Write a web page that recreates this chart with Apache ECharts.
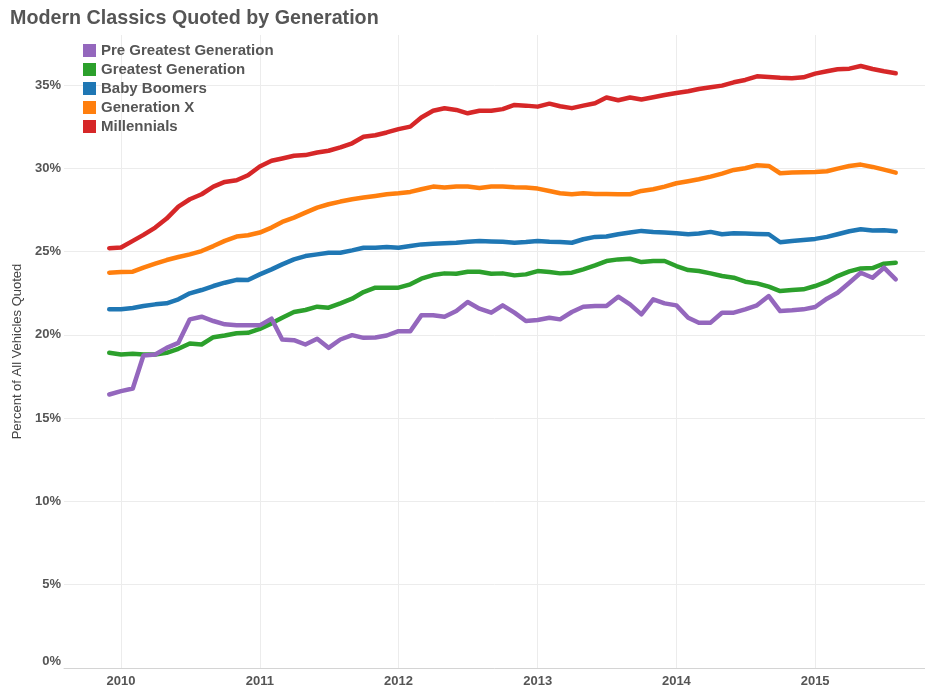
<!DOCTYPE html>
<html>
<head>
<meta charset="utf-8">
<script src="https://cdn.jsdelivr.net/npm/echarts@6/dist/echarts.min.js"></script>
<style>
html,body{margin:0;padding:0;background:#fff;}
#chart{width:925px;height:689px;}
</style>
</head>
<body>
<div id="chart"></div>
<script>
// Months: Dec 2009 .. Aug 2015 (first-of-month)
var startYear = 2009, startMonth = 11, monthCount = 69;
var yearLabels = ['2010', '2011', '2012', '2013', '2014', '2015'];
var yTickValues = [0, 5, 10, 15, 20, 25, 30, 35];
var seriesNames = ['Pre Greatest Generation', 'Greatest Generation', 'Baby Boomers', 'Generation X', 'Millennials'];

var preGreatest = [16.42, 16.62, 16.78, 18.76, 18.82, 19.22, 19.52, 20.93, 21.09, 20.83, 20.63, 20.57,
  20.57, 20.57, 20.97, 19.72, 19.68, 19.42, 19.76, 19.22, 19.72, 19.98, 19.82, 19.84,
  19.96, 20.22, 20.22, 21.17, 21.17, 21.09, 21.43, 21.97, 21.57, 21.33, 21.77, 21.33,
  20.83, 20.89, 21.03, 20.93, 21.37, 21.69, 21.73, 21.73, 22.29, 21.83, 21.23, 22.13,
  21.89, 21.77, 21.03, 20.73, 20.73, 21.33, 21.33, 21.53, 21.77, 22.33, 21.43, 21.47,
  21.53, 21.67, 22.17, 22.53, 23.13, 23.73, 23.43, 24.03, 23.33];
var greatest = [18.92, 18.82, 18.86, 18.82, 18.82, 18.92, 19.16, 19.48, 19.42, 19.86, 19.96, 20.1,
  20.12, 20.36, 20.69, 21.03, 21.37, 21.49, 21.69, 21.63, 21.89, 22.17, 22.57, 22.83,
  22.83, 22.83, 23.03, 23.37, 23.59, 23.69, 23.67, 23.79, 23.79, 23.67, 23.69, 23.57,
  23.63, 23.83, 23.77, 23.69, 23.73, 23.93, 24.17, 24.43, 24.53, 24.57, 24.37, 24.43,
  24.43, 24.13, 23.89, 23.83, 23.69, 23.53, 23.43, 23.19, 23.09, 22.89, 22.63, 22.69,
  22.73, 22.93, 23.19, 23.53, 23.81, 23.99, 24.01, 24.27, 24.33];
var babyBoomers = [21.53, 21.53, 21.61, 21.73, 21.83, 21.89, 22.13, 22.49, 22.69, 22.93, 23.13, 23.3,
  23.29, 23.63, 23.93, 24.23, 24.53, 24.73, 24.83, 24.93, 24.93, 25.07, 25.23, 25.23,
  25.27, 25.23, 25.33, 25.43, 25.47, 25.5, 25.53, 25.59, 25.63, 25.61, 25.59, 25.53,
  25.57, 25.63, 25.59, 25.57, 25.53, 25.74, 25.88, 25.9, 26.04, 26.14, 26.24, 26.18,
  26.14, 26.1, 26.04, 26.08, 26.18, 26.04, 26.1, 26.08, 26.06, 26.04, 25.56, 25.64,
  25.7, 25.76, 25.88, 26.04, 26.22, 26.34, 26.26, 26.28, 26.22];
var generationX = [23.73, 23.77, 23.79, 24.03, 24.27, 24.49, 24.67, 24.83, 25.03, 25.33, 25.64, 25.9,
  25.98, 26.14, 26.44, 26.78, 27.04, 27.34, 27.64, 27.84, 28.0, 28.14, 28.24, 28.34,
  28.44, 28.5, 28.58, 28.74, 28.9, 28.84, 28.9, 28.9, 28.82, 28.9, 28.9, 28.86,
  28.84, 28.78, 28.64, 28.5, 28.44, 28.5, 28.46, 28.46, 28.44, 28.44, 28.64, 28.74,
  28.9, 29.1, 29.22, 29.34, 29.5, 29.68, 29.9, 30.0, 30.18, 30.14, 29.7, 29.74,
  29.76, 29.78, 29.82, 29.98, 30.14, 30.22, 30.08, 29.92, 29.74];
var millennials = [25.2, 25.24, 25.64, 26.0, 26.44, 26.98, 27.7, 28.14, 28.44, 28.9, 29.18, 29.28,
  29.58, 30.11, 30.45, 30.59, 30.75, 30.79, 30.95, 31.05, 31.25, 31.5, 31.89, 31.98,
  32.15, 32.35, 32.5, 33.05, 33.45, 33.6, 33.5, 33.3, 33.45, 33.45, 33.55, 33.8,
  33.76, 33.7, 33.88, 33.72, 33.61, 33.76, 33.9, 34.25, 34.08, 34.25, 34.13, 34.26,
  34.4, 34.52, 34.62, 34.76, 34.86, 34.96, 35.16, 35.3, 35.52, 35.48, 35.43, 35.4,
  35.46, 35.68, 35.82, 35.94, 35.98, 36.14, 35.96, 35.82, 35.7];

var seriesValues = [preGreatest, greatest, babyBoomers, generationX, millennials];
var colors = ['#9467bd', '#2ca02c', '#1f77b4', '#ff7f0e', '#d62728'];

function monthDate(i) {
  return Date.UTC(startYear, startMonth + i, 1);
}
var yearTicks = yearLabels.map(function (y) { return Date.UTC(+y, 0, 1); });

var chart = echarts.init(document.getElementById('chart'), null, {renderer: 'canvas'});

var series = seriesValues.map(function (vals, k) {
  return {
    name: seriesNames[k],
    type: 'line',
    data: vals.map(function (v, i) { return [monthDate(i), v]; }),
    showSymbol: false,
    symbol: 'none',
    lineStyle: {width: 4.5, color: colors[k], cap: 'round', join: 'round'},
    itemStyle: {color: colors[k]},
    z: k === 0 ? 4 : 2,
    animation: false
  };
});

chart.setOption({
  backgroundColor: '#ffffff',
  animation: false,
  textStyle: {fontFamily: 'Liberation Sans, Arial, sans-serif'},
  title: {
    text: 'Modern Classics Quoted by Generation',
    left: 5, top: 4,
    textStyle: {fontSize: 19.7, fontWeight: 'bold', color: '#555555', fontFamily: 'Liberation Sans, Arial, sans-serif'}
  },
  legend: {
    data: seriesNames,
    orient: 'vertical',
    left: 78, top: 38,
    icon: 'rect',
    itemWidth: 13, itemHeight: 13, itemGap: 4,
    textStyle: {fontSize: 15, lineHeight: 15, fontWeight: 'bold', color: '#555555', fontFamily: 'Liberation Sans, Arial, sans-serif'}
  },
  grid: {left: 64, right: 0, top: 35, bottom: 21, containLabel: false},
  xAxis: {
    type: 'value',
    min: Date.UTC(2009, 7, 4),
    max: Date.UTC(2015, 9, 17),
    axisLine: {show: true, lineStyle: {color: '#d4d4d4', width: 1}},
    axisTick: {show: false, customValues: yearTicks},
    axisLabel: {
      customValues: yearTicks,
      formatter: function (v) { return String(new Date(v).getUTCFullYear()); },
      fontSize: 13, fontWeight: 'bold', color: '#555555', margin: 7,
      fontFamily: 'Liberation Sans, Arial, sans-serif'
    },
    splitLine: {show: true, lineStyle: {color: '#ececec', width: 1}}
  },
  yAxis: {
    type: 'value',
    min: 0, max: 38,
    name: 'Percent of All Vehicles Quoted',
    nameLocation: 'middle',
    nameGap: 38,
    nameTextStyle: {fontSize: 13, color: '#444444', fontFamily: 'Liberation Sans, Arial, sans-serif'},
    axisLine: {show: false},
    axisTick: {show: false, customValues: yTickValues},
    axisLabel: {
      customValues: yTickValues,
      formatter: function (v) { return v + '%'; },
      fontSize: 13, fontWeight: 'bold', color: '#555555', margin: 3,
      verticalAlignMinLabel: 'bottom',
      fontFamily: 'Liberation Sans, Arial, sans-serif'
    },
    splitLine: {show: true, lineStyle: {color: '#ececec', width: 1}}
  },
  series: series
});
</script>
</body>
</html>
